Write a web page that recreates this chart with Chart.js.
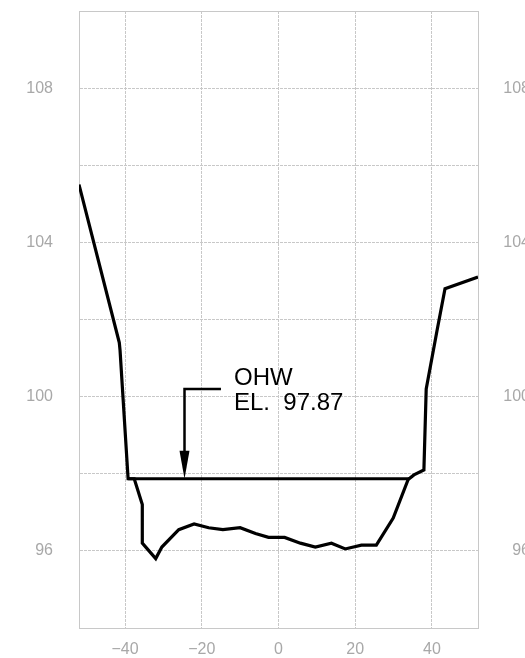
<!DOCTYPE html>
<html>
<head>
<meta charset="utf-8">
<script src="https://cdn.jsdelivr.net/npm/chart.js@4/dist/chart.umd.min.js"></script>
<style>
  html, body { margin: 0; padding: 0; background: #fff; overflow: hidden; }
  #wrap { width: 530px; height: 658px; }
</style>
</head>
<body>
<div id="wrap"><canvas id="section" width="530" height="658"></canvas></div>
<script>
// cross section: station (ft) vs elevation
const stations = [-52, -41.5, -41.3, -39.2, -37.6, -35.5, -35.5, -32, -30.4, -26, -22, -18.2, -14.5, -10, -6, -2.6, 1.6, 5.7, 9.6, 13.8, 17.4, 21.6, 25.5, 29.9, 33.8, 35.3, 37.9, 38.5, 41.3, 43.4, 52];
const elevations = [105.5, 101.4, 101.2, 97.87, 97.87, 97.2, 96.2, 95.8, 96.1, 96.55, 96.7, 96.6, 96.55, 96.6, 96.45, 96.35, 96.35, 96.2, 96.1, 96.2, 96.05, 96.15, 96.15, 96.85, 97.85, 97.97, 98.1, 100.2, 101.7, 102.8, 103.1];

// ordinary high water line
const ohwStations = [-39.2, 34.2];
const ohwElevation = 97.87;

// callout
const calloutText = ["OHW", "EL.  97.87"];
const calloutArrow = [-24.5, 100.2];   // leader x, corner elevation
const calloutTextAt = [-11.6, 100.3, 99.66]; // text x, baseline line 1, baseline line 2
const calloutLeaderEnd = -15;

const xGridValues = [-40, -20, 0, 20, 40];
const yLabels = [96, 100, 104, 108];

const groundPts = stations.map((s, i) => ({ x: s, y: elevations[i] }));
const ohwPts = ohwStations.map((s) => ({ x: s, y: ohwElevation }));

const gridColor = "#c8c8c8";
const labelColor = "#a8a8a8";
const labelFont = { family: "Liberation Sans", size: 16 };

const calloutPlugin = {
  id: "callout",
  afterDatasetsDraw(chart) {
    const ctx = chart.ctx;
    const xs = chart.scales.x;
    const ys = chart.scales.y;
    const lx = xs.getPixelForValue(calloutArrow[0]);
    const cy = ys.getPixelForValue(calloutArrow[1]);
    const tipY = ys.getPixelForValue(ohwElevation);
    const ex = xs.getPixelForValue(calloutLeaderEnd);

    ctx.save();
    ctx.strokeStyle = "#000";
    ctx.fillStyle = "#000";
    ctx.lineWidth = 2.5;
    ctx.beginPath();
    ctx.moveTo(ex, cy);
    ctx.lineTo(lx, cy);
    ctx.lineTo(lx, tipY - 20);
    ctx.stroke();
    // arrow head
    ctx.beginPath();
    ctx.moveTo(lx - 5, tipY - 28);
    ctx.lineTo(lx + 5, tipY - 28);
    ctx.lineTo(lx, tipY);
    ctx.closePath();
    ctx.fill();

    ctx.font = '24px "Liberation Sans"';
    ctx.textAlign = "left";
    ctx.textBaseline = "alphabetic";
    const tx = xs.getPixelForValue(calloutTextAt[0]);
    ctx.fillText(calloutText[0], tx, ys.getPixelForValue(calloutTextAt[1]));
    ctx.fillText(calloutText[1], tx, ys.getPixelForValue(calloutTextAt[2]));
    ctx.restore();
  },
};

const yTickCallback = (v) => (yLabels.includes(v) ? String(v) : "");

new Chart("section", {
  type: "scatter",
  data: {
    datasets: [
      {
        data: groundPts,
        showLine: true,
        borderColor: "#000",
        borderWidth: 3.2,
        pointRadius: 0,
        tension: 0,
      },
      {
        data: ohwPts,
        showLine: true,
        borderColor: "#000",
        borderWidth: 3,
        pointRadius: 0,
      },
    ],
  },
  options: {
    responsive: false,
    animation: false,
    layout: { padding: 0 },
    plugins: {
      legend: { display: false },
      tooltip: { enabled: false },
    },
    scales: {
      x: {
        type: "linear",
        min: -52,
        max: 52,
        afterBuildTicks: (scale) => {
          scale.ticks = xGridValues.map((v) => ({ value: v }));
        },
        afterFit: (scale) => {
          scale.height = 30;
        },
        grid: { color: gridColor, lineWidth: 1, drawTicks: true, tickLength: 12, tickColor: "rgba(0,0,0,0)" },
        border: { color: gridColor, dash: [3, 1] },
        ticks: {
          padding: 0,
          color: labelColor,
          font: labelFont,
          callback: (v) => (v < 0 ? "\u2212" + Math.abs(v) : String(v)),
        },
      },
      x2: {
        type: "linear",
        position: "top",
        min: -52,
        max: 52,
        afterFit: (scale) => {
          scale.height = 11;
        },
        grid: { display: false, drawTicks: false },
        border: { color: gridColor },
        ticks: { display: false },
      },
      y: {
        type: "linear",
        min: 94,
        max: 110,
        afterFit: (scale) => {
          scale.width = 79;
        },
        grid: { color: gridColor, lineWidth: 1, drawTicks: true, tickLength: 26, tickColor: "rgba(0,0,0,0)" },
        border: { color: gridColor, dash: [3, 1] },
        ticks: {
          stepSize: 2,
          padding: 0,
          color: labelColor,
          font: labelFont,
          autoSkip: false,
          callback: yTickCallback,
        },
      },
      y2: {
        type: "linear",
        position: "right",
        min: 94,
        max: 110,
        afterFit: (scale) => {
          scale.width = 52;
        },
        grid: { display: false, drawTicks: false },
        border: { color: gridColor },
        ticks: {
          stepSize: 2,
          padding: 0,
          crossAlign: "far",
          color: labelColor,
          font: labelFont,
          autoSkip: false,
          callback: yTickCallback,
        },
      },
    },
  },
  plugins: [calloutPlugin],
});
</script>
</body>
</html>
